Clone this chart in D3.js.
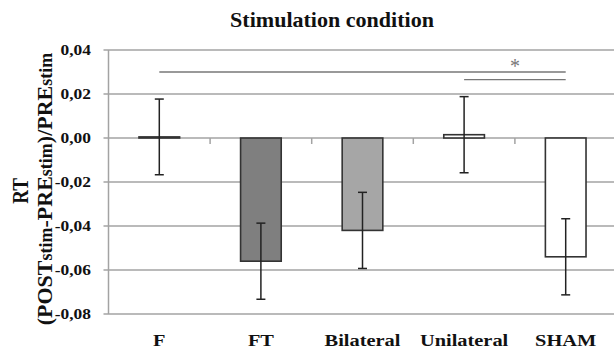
<!DOCTYPE html>
<html>
<head>
<meta charset="utf-8">
<script src="https://cdn.jsdelivr.net/npm/d3@7"></script>
<style>
  html, body { margin: 0; padding: 0; background: #fff; }
  svg { display: block; }
  text { font-family: "Liberation Serif", "Times New Roman", serif; font-weight: bold; fill: #111; }
</style>
</head>
<body>
<svg id="chart" width="614" height="356"></svg>
<script>
// ---- data ----
const categories = ["F", "FT", "Bilateral", "Unilateral", "SHAM"];
const means = [0.0005, -0.056, -0.042, 0.0015, -0.054];
const errors = [0.0172, 0.0173, 0.0173, 0.0173, 0.0173];
const yTicks = [0.04, 0.02, 0.00, -0.02, -0.04, -0.06, -0.08];
const comparisons = [["F", "SHAM"], ["Unilateral", "SHAM"]];
const comparisonLevels = [0.030, 0.0265];
const sigLabel = "*";
const title = "Stimulation condition";
const yTitle1 = "RT";
const yTitle2 = [["(POST", "big"], ["stim", "small"], ["-PRE", "big"], ["stim", "small"], [")/PRE", "big"], ["stim", "small"]];

// ---- styles ----
const barFills = ["#ffffff", "#7f7f7f", "#a6a6a6", "#ffffff", "#ffffff"];
const gridColor = "#a3a3a3";
const stretch = 1.2;
const yTitleSizes = { big: 22, small: 18 };

const svg = d3.select("#chart");
const plotLeft = 108.5, plotRight = 616.5, plotTop = 50, plotBottom = 314;

const x = d3.scaleBand().domain(categories).range([plotLeft, plotRight])
  .paddingInner(0.6).paddingOuter(0.3);
const y = d3.scaleLinear().domain([-0.08, 0.04]).range([plotBottom, plotTop]);

const fmt = v => d3.format(".2f")(v).replace(".", ",").replace("\u2212", "-");

// gridlines
svg.append("g").selectAll("line").data(yTicks).join("line")
  .attr("x1", plotLeft - 5).attr("x2", 614)
  .attr("y1", d => y(d)).attr("y2", d => y(d))
  .attr("stroke", gridColor).attr("stroke-width", 1.5);

// y axis line
svg.append("line").attr("x1", plotLeft).attr("x2", plotLeft)
  .attr("y1", y(0.04)).attr("y2", y(-0.08))
  .attr("stroke", gridColor).attr("stroke-width", 1.5);

// category boundary ticks on zero line
const step = x.step();
const bounds = d3.range(1, categories.length).map(i => plotLeft + i * step);
svg.append("g").selectAll("line").data(bounds).join("line")
  .attr("x1", d => d).attr("x2", d => d)
  .attr("y1", y(0)).attr("y2", y(0) + 6)
  .attr("stroke", gridColor).attr("stroke-width", 1.5);

// y tick labels
svg.append("g").selectAll("text").data(yTicks).join("text")
  .attr("transform", d => `translate(91,${y(d)}) scale(${stretch},1)`)
  .attr("dy", "0.35em")
  .attr("text-anchor", "end")
  .style("font-size", "14.5px")
  .text(d => fmt(d));

// bars
const data = categories.map((c, i) => ({ c, v: means[i], e: errors[i], fill: barFills[i] }));
svg.append("g").selectAll("rect").data(data).join("rect")
  .attr("x", d => x(d.c))
  .attr("width", x.bandwidth())
  .attr("y", d => Math.min(y(0), y(d.v)))
  .attr("height", d => Math.abs(y(d.v) - y(0)))
  .attr("fill", d => d.fill)
  .attr("stroke", "#333")
  .attr("stroke-width", 1.6);

// error bars
const eb = svg.append("g").attr("stroke", "#222").attr("stroke-width", 1.5);
data.forEach(d => {
  const cx = x(d.c) + x.bandwidth() / 2;
  eb.append("line").attr("x1", cx).attr("x2", cx)
    .attr("y1", y(d.v + d.e)).attr("y2", y(d.v - d.e));
  [d.v + d.e, d.v - d.e].forEach(v => {
    eb.append("line").attr("x1", cx - 4.5).attr("x2", cx + 4.5)
      .attr("y1", y(v)).attr("y2", y(v));
  });
});

// significance lines
comparisons.forEach((p, i) => {
  const x1 = x(p[0]) + x.bandwidth() / 2, x2 = x(p[1]) + x.bandwidth() / 2;
  svg.append("line").attr("x1", x1).attr("x2", x2)
    .attr("y1", y(comparisonLevels[i])).attr("y2", y(comparisonLevels[i]))
    .attr("stroke", "#777").attr("stroke-width", 1.3);
});
const sx = (x(comparisons[1][0]) + x(comparisons[1][1])) / 2 + x.bandwidth() / 2;
svg.append("text").attr("x", sx).attr("y", y(comparisonLevels[0]) + 1)
  .attr("text-anchor", "middle")
  .style("font-size", "20px").style("font-weight", "normal").style("fill", "#777")
  .text(sigLabel);

// x labels
svg.append("g").selectAll("text").data(categories).join("text")
  .attr("transform", d => `translate(${x(d) + x.bandwidth() / 2},346) scale(${stretch},1)`)
  .attr("text-anchor", "middle")
  .style("font-size", "17px")
  .text(d => d);

// title
svg.append("text")
  .attr("transform", `translate(332,27) scale(1.05,1)`)
  .attr("text-anchor", "middle")
  .style("font-size", "21px")
  .text(title);

// y axis title
svg.append("text")
  .attr("transform", `translate(28,191) rotate(-90) scale(1,${stretch})`)
  .attr("text-anchor", "middle")
  .style("font-size", "19px")
  .text(yTitle1);
const yl = svg.append("text")
  .attr("transform", `translate(52,189) rotate(-90)`)
  .attr("text-anchor", "middle");
yTitle2.forEach(([t, s]) => yl.append("tspan").style("font-size", yTitleSizes[s] + "px").text(t));
</script>
</body>
</html>
